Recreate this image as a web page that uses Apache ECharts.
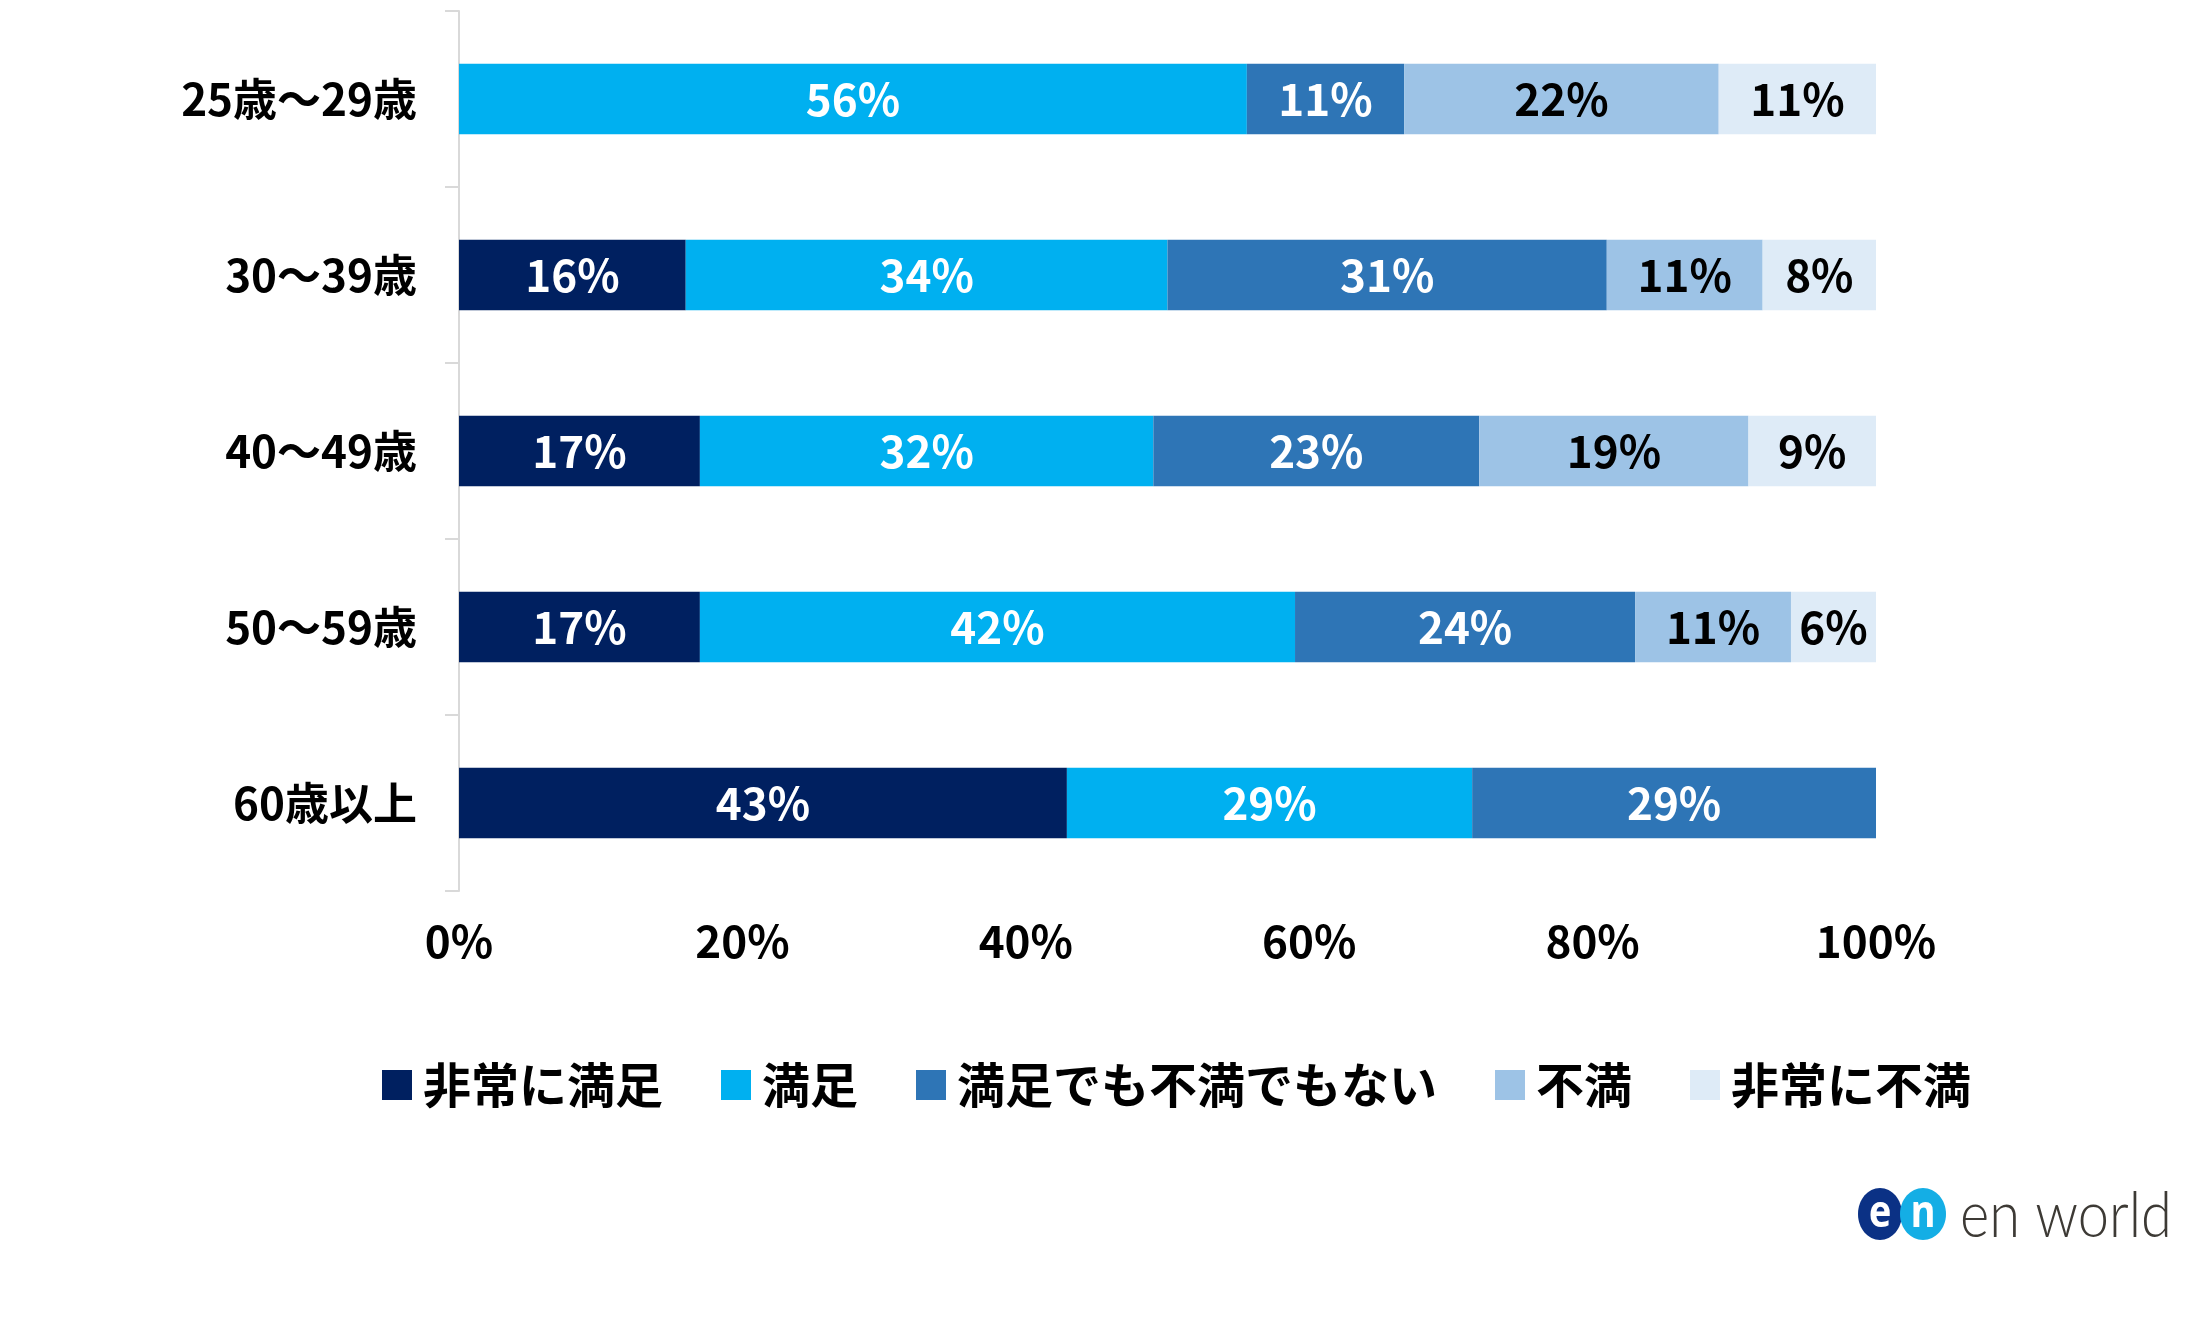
<!DOCTYPE html>
<html>
<head>
<meta charset="utf-8">
<script src="https://cdn.jsdelivr.net/npm/echarts@6/dist/echarts.min.js"></script>
<style>
html,body{margin:0;padding:0;background:#fff;}
#chart{width:2207px;height:1317px;}
</style>
</head>
<body>
<div id="chart"></div>
<script>
const categories = ['25歳～29歳', '30～39歳', '40～49歳', '50～59歳', '60歳以上'];
const seriesNames = ['非常に満足', '満足', '満足でも不満でもない', '不満', '非常に不満'];
const verySatisfied = [0, 16, 17, 17, 42.9];
const satisfied = [55.6, 34, 32, 42, 28.6];
const neutral = [11.1, 31, 23, 24, 28.6];
const dissatisfied = [22.2, 11, 19, 11, 0];
const veryDissatisfied = [11.1, 8, 9, 6, 0];
const xTicks = [0, 20, 40, 60, 80, 100];

const colors = ['#002060', '#00B0F0', '#2E75B6', '#9DC3E6', '#DEEBF7'];
const labelColors = ['#fff', '#fff', '#fff', '#000', '#000'];
const FONT = "'Noto Sans CJK JP', sans-serif";
const values = [verySatisfied, satisfied, neutral, dissatisfied, veryDissatisfied];

const chart = echarts.init(document.getElementById('chart'));
chart.setOption({
  animation: false,
  backgroundColor: '#fff',
  grid: { left: 459, right: 331, top: 11, bottom: 426, containLabel: false },
  xAxis: {
    type: 'value', min: 0, max: 100, interval: 20,
    axisLine: { show: false }, axisTick: { show: false }, splitLine: { show: false },
    axisLabel: {
      margin: 28, color: '#000', fontSize: 44, fontWeight: 'bold', fontFamily: FONT,
      formatter: v => xTicks.includes(v) ? v + '%' : ''
    }
  },
  yAxis: {
    type: 'category', data: categories, inverse: true,
    axisLine: { show: true, lineStyle: { color: '#D9D9D9', width: 2 } },
    axisTick: { show: true, length: 14, lineStyle: { color: '#D9D9D9', width: 2 } },
    axisLabel: { margin: 42, color: '#000', fontSize: 44, fontWeight: 'bold', fontFamily: FONT }
  },
  legend: {
    left: 377, top: 1056,
    itemWidth: 30, itemHeight: 30, itemGap: 58,
    icon: 'rect',
    textStyle: { fontSize: 48, fontWeight: 'bold', color: '#000', fontFamily: FONT, padding: [0, 0, 0, 6] },
    data: seriesNames
  },
  series: seriesNames.map((name, i) => ({
    name, type: 'bar', stack: 'total', barCategoryGap: '60%',
    itemStyle: { color: colors[i] },
    label: {
      show: true, position: 'inside', color: labelColors[i],
      fontSize: 44, fontWeight: 'bold', fontFamily: FONT,
      formatter: p => p.value > 0 ? Math.round(p.value) + '%' : ''
    },
    data: values[i]
  })),
  graphic: [
    { type: 'ellipse', shape: { cx: 1880, cy: 1214, rx: 22, ry: 26 }, style: { fill: '#0B3185' } },
    { type: 'ellipse', shape: { cx: 1923, cy: 1214, rx: 23, ry: 26 }, style: { fill: '#14AEE5' } },
    { type: 'text', x: 1880, y: 1214, scaleY: 1.2, style: { text: 'e', fill: '#fff', font: "bold 38px 'Noto Sans'", align: 'center', verticalAlign: 'middle' } },
    { type: 'text', x: 1923, y: 1214, scaleY: 1.2, style: { text: 'n', fill: '#fff', font: "bold 38px 'Noto Sans'", align: 'center', verticalAlign: 'middle' } },
    { type: 'text', x: 1960, y: 1248, scaleY: 1.12, style: { text: 'en world', fill: '#3d3a35', font: "300 56px Lato", align: 'left', verticalAlign: 'bottom' } }
  ]
});
</script>
</body>
</html>
